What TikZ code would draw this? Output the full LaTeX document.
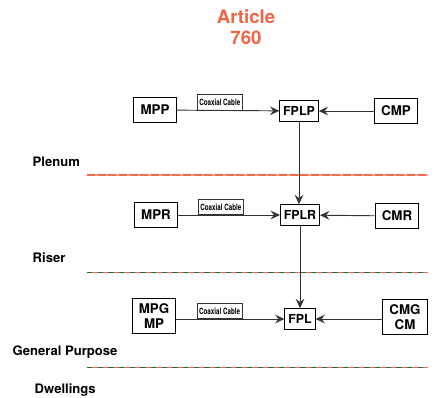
\documentclass[tikz,border=0pt]{standalone}
\usepackage{fontspec}
\setmainfont{TeX Gyre Heros}
\newfontfamily\cablefont[FakeStretch=0.72]{TeX Gyre Heros}
\usetikzlibrary{arrows.meta,positioning}
\definecolor{titlered}{HTML}{EF6545}
\definecolor{zoneorange}{HTML}{F4694B}
\definecolor{zonegreen}{HTML}{1F6B4E}

\begin{document}
\begin{tikzpicture}[x=0.75pt,y=-0.75pt,
  sidebox/.style={draw,thick,font=\fontsize{10}{11.5}\selectfont\bfseries,align=center,inner xsep=5pt,minimum height=18.5pt},
  fpbox/.style={draw,thick,font=\fontsize{9.3}{11}\selectfont\bfseries,inner xsep=2.5pt,minimum height=15.5pt},
  cable/.style={draw,font=\cablefont\fontsize{6.5}{7}\selectfont\bfseries,inner sep=1.5pt,minimum height=11.5pt,above},
  feed/.style={draw=black!80,line width=0.7pt,-{Stealth[length=7pt,width=6.5pt,inset=2.5pt]}},
  zone/.style={font=\fontsize{9.8}{11}\selectfont\bfseries,anchor=west}]
  \useasboundingbox (0,0) rectangle (434,398);
  % title
  \node[font=\fontsize{14}{16}\selectfont\bfseries,text=titlered,align=center] (title) at (246,27) {Article\\760};
  % zone separators
  \draw[zoneorange!55,line width=0.8pt] (87,175) -- (428,175);
  \draw[zoneorange,line width=0.8pt,dash pattern=on 6pt off 2pt] (87,175) -- (428,175);
  \foreach \y in {272,367} {
    \draw[zonegreen,line width=0.75pt,dash pattern=on 4pt off 4pt] (87,\y) -- (428,\y);
    \draw[zoneorange,line width=0.75pt,dash pattern=on 4pt off 4pt,dash phase=4pt] (87,\y) -- (428,\y);
  }
  \node[zone] (plenum) at (28,162) {Plenum};
  \node[zone] (riser) at (28,258) {Riser};
  \node[zone] (general) at (8,352) {General Purpose};
  \node[zone] (dwell) at (30,390) {Dwellings};
  % plenum row
  \node[sidebox] (mpp) at (155,110) {MPP};
  \node[fpbox] (fplp) at (299,111) {FPLP};
  \node[sidebox] (cmp) at (396,111) {CMP};
  % riser row
  \node[sidebox] (mpr) at (156,215) {MPR};
  \node[fpbox] (fplr) at (300,215) {FPLR};
  \node[sidebox] (cmr) at (397,216) {CMR};
  % general purpose row
  \node[sidebox] (mpg) at (154,316) {MPG\\MP};
  \node[fpbox] (fpl) at (300,319) {FPL};
  \node[sidebox] (cmg) at (405,317) {CMG\\CM};
  % feeds
  \draw[feed] (mpp) -- node[cable,pos=0.42] {Coaxial Cable} (fplp);
  \draw[feed] (cmp) -- (fplp);
  \draw[feed] (mpr) -- node[cable,pos=0.42] {Coaxial Cable} (fplr);
  \draw[feed] (cmr) -- (fplr);
  \draw[feed] (mpg.east |- fpl) -- node[cable,pos=0.4] {Coaxial Cable} (fpl);
  \draw[feed] (cmg.west |- fpl) -- (fpl);
  \draw[feed] (fplp.south) -- (fplp.south |- fplr.north);
  \draw[feed] (fplr.south) -- (fplr.south |- fpl.north);
\end{tikzpicture}
\end{document}
